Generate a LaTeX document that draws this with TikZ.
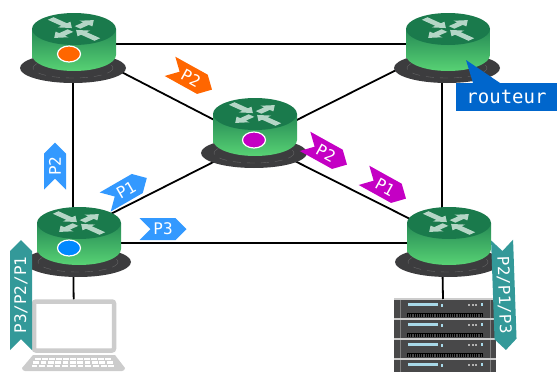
\documentclass[tikz,border=0pt]{standalone}
\usepackage{fontspec}
\setmonofont{DejaVu Sans Mono}
\usetikzlibrary{shapes.symbols,shapes.geometric}

\definecolor{rtop}{HTML}{1A7A4C}
\definecolor{rside}{HTML}{258A55}
\definecolor{rmid}{HTML}{329A5C}
\definecolor{rlow}{HTML}{58D274}
\definecolor{rbase}{HTML}{3C3C3E}
\definecolor{ricon}{HTML}{B4D6C6}
\definecolor{pblue}{HTML}{3399FF}
\definecolor{dotblue}{HTML}{0088FF}
\definecolor{porange}{HTML}{FF6600}
\definecolor{pmagenta}{HTML}{C400C4}
\definecolor{pteal}{HTML}{339999}
\definecolor{callblue}{HTML}{0066CC}
\definecolor{pcgray}{HTML}{CCCCCC}
\definecolor{rackgray}{HTML}{484849}
\definecolor{rackblue}{HTML}{A8D8E8}

\tikzset{
  link/.style={line width=1.8pt},
  tag/.style={signal, signal to=east, signal from=west, signal pointer angle=90,
    inner sep=0pt, minimum height=22pt, text=white, font=\ttfamily\fontsize{16}{16}\selectfont},
  routerdot/.style={ellipse, draw=white, line width=1.2pt, inner sep=0pt, minimum width=23pt, minimum height=16pt},
}

% one router, top face centred on (#1,#2)
\newcommand{\router}[2]{
  \fill[rbase] (#1-1,#2+39) ellipse [x radius=53, y radius=15];
  \draw[gray!60!rbase, line width=.4pt, dash pattern=on 8pt off 6pt] (#1-1,#2+39) ellipse [x radius=40, y radius=10];
  \shade[top color=rside, middle color=rmid, bottom color=rlow] (#1-42,#2) -- (#1-42,#2+26)
    arc[start angle=180, end angle=0, x radius=42, y radius=16] -- (#1+42,#2) -- cycle;
  \fill[rtop] (#1,#2) ellipse [x radius=42, y radius=16];
  \foreach \a in {45,225}
    \fill[ricon, shift={(#1,#2)}, yscale=.45, rotate=\a] (5,-4) -- (17,-4) -- (17,-9) -- (28,0) -- (17,9) -- (17,4) -- (5,4) -- cycle;
  \foreach \a in {135,-45}
    \fill[ricon, shift={(#1,#2)}, yscale=.45, rotate=\a] (3,0) -- (14,-9) -- (14,-4) -- (33,-4) -- (33,4) -- (14,4) -- (14,9) -- cycle;
}

\begin{document}
\begin{tikzpicture}[x=1pt,y=-1pt]
  \useasboundingbox (0,0) rectangle (557,372);

  % link ends
  \coordinate (R1) at (73,44);
  \coordinate (R1d) at (73,47);
  \coordinate (R2) at (255,141);
  \coordinate (R3) at (442,44);
  \coordinate (R3d) at (442,47);
  \coordinate (R4) at (73,243);
  \coordinate (R4d) at (73,233);
  \coordinate (R5) at (442,243);
  \coordinate (R5d) at (442,235);

  % laptop and rack come first, links run up from them
  \node[draw=pcgray, fill=white, line width=4.5pt, rounded corners=2pt, inner sep=0pt,
    minimum width=80pt, minimum height=49pt] (laptop) at (74,326) {};
  \fill[pcgray] (33,355) -- (115,355) -- (125,368) arc[start angle=0, end angle=90, radius=3] -- (25,371)
    arc[start angle=90, end angle=180, radius=3] -- cycle;
  \foreach \r/\s in {0/0,1/-1.7,2/-3.4}
    \foreach \k in {0,...,10}
      \fill[white] ({35+\k*7+\s*(5-\k)/5},{358+\r*3.3}) rectangle ++(5.8,2.2);

  \begin{scope}
    \clip (380,290) rectangle (557,372);
    \foreach \u in {0,1,2,3} {
      \fill[rackgray] (394,299+\u*20) rectangle (496,318+\u*20);
      \fill[pcgray] (394,298+\u*20) rectangle (496,300+\u*20);
      \fill[gray] (400,300+\u*20) rectangle (401,318+\u*20);
      \fill[gray] (490,300+\u*20) rectangle (491,318+\u*20);
      \fill[rackblue] (408,303+\u*20) rectangle (438,306+\u*20);
      \fill[rackblue] (441,304+\u*20) rectangle (443,306.5+\u*20);
      \foreach \d in {468,471.5,475}
        \fill[gray!60] (\d,304+\u*20) rectangle ++(2,2.2);
      \fill[rackblue] (481,303+\u*20) rectangle ++(2.2,2.5);
      \draw[black, line width=.7pt] (407,313+\u*20) -- (483,313+\u*20);
      \draw[black, line width=3.5pt, dash pattern=on 1pt off 1.2pt] (407,315+\u*20) -- (483,315+\u*20);
    }
  \end{scope}
  \coordinate (rack) at (443,299);

  % links
  \draw[link] (R1) -- (R3);
  \draw[link] (R4) -- (R5);
  \draw[link] (R1) -- (R4);
  \draw[link] (R3) -- (R5);
  \draw[link] (R1d) -- (R2);
  \draw[link] (R3d) -- (R2);
  \draw[link] (R4d) -- (R2);
  \draw[link] (R5d) -- (R2);
  \draw[link] (R4) -- (laptop);
  \draw[link] (R5) -- (rack);

  % routers
  \router{74}{29}
  \router{255}{114}
  \router{448}{29}
  \router{79}{223}
  \router{449}{223}
  \node[routerdot, fill=porange] (dotR1) at (69,54) {};
  \node[routerdot, fill=pmagenta] (dotR2) at (254,140) {};
  \node[routerdot, fill=dotblue] (dotR4) at (69,248) {};

  % packets
  \node[tag, fill=porange, minimum width=48pt, rotate=-29] (tagA) at (191,78) {P2};
  \node[tag, fill=pmagenta, minimum width=48pt, rotate=-29] (tagB) at (326,153) {P2};
  \node[tag, fill=pmagenta, minimum width=48pt, rotate=-29] (tagC) at (385,187) {P1};
  \node[tag, fill=pblue, minimum width=48pt, rotate=30] (tagD) at (126,190) {P1};
  \node[tag, fill=pblue, minimum width=47pt, rotate=90] (tagE) at (55,166) {P2};
  \node[tag, fill=pblue, minimum width=47pt] (tagF) at (163,229) {P3};
  \node[tag, fill=pteal, minimum width=110pt, rotate=90] (tagG) at (21,295) {P3/P2/P1};
  \node[tag, fill=pteal, minimum width=110pt, rotate=-88] (tagH) at (504,295) {P2/P1/P3};

  % callout
  \node[fill=callblue, text=white, inner sep=0pt, minimum width=101pt, minimum height=28pt,
    font=\ttfamily\fontsize{19}{19}\selectfont] (routeur) at (506.5,97) {routeur};
  \coordinate (tip) at (466,60);
  \fill[callblue] (tip) -- (500,83) -- (473,83) -- cycle;
\end{tikzpicture}
\end{document}
